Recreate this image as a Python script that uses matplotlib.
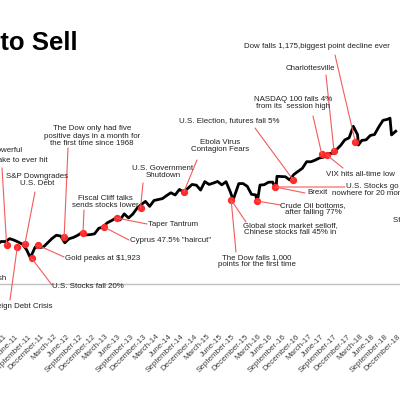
import matplotlib
matplotlib.use("Agg")
import matplotlib.pyplot as plt
from matplotlib.patches import ConnectionPatch
import numpy as np

plt.rcParams['font.family'] = ['Liberation Sans', 'DejaVu Sans']

# monthly S&P 500 closes, Jan 2011 .. Nov 2018
spx = [1286, 1327, 1325, 1363, 1345, 1320, 1292, 1218, 1131, 1253, 1246, 1258,
       1312, 1366, 1408, 1398, 1310, 1362, 1379, 1406, 1441, 1412, 1416, 1426,
       1498, 1515, 1569, 1598, 1631, 1606, 1686, 1633, 1682, 1757, 1806, 1848,
       1783, 1859, 1872, 1884, 1924, 1960, 1931, 2003, 1972, 2018, 2068, 2059,
       1995, 2105, 2068, 2086, 2107, 2063, 2104, 1972, 1920, 2079, 2080, 2044,
       1940, 1932, 2060, 2065, 2097, 2099, 2174, 2171, 2168, 2126, 2199, 2239,
       2279, 2364, 2363, 2384, 2412, 2423, 2470, 2472, 2519, 2575, 2648, 2674,
       2824, 2714, 2641, 2648, 2705, 2718, 2816, 2902, 2914, 2712, 2760]
spx_dates = [2011 + i / 12 for i in range(len(spx))]

# extra intramonth extremes
extra_dates = [2011.66, 2015.64, 2016.11, 2016.48, 2018.10, 2018.72]
extra_vals = [1110, 1867, 1829, 2000, 2581, 2930]

# event markers
ev_dates = [2011.19, 2011.40, 2011.55, 2011.68, 2011.80, 2012.32, 2012.69, 2013.10,
            2013.35, 2013.82, 2014.67, 2015.60, 2016.82, 2016.10, 2016.47, 2017.38,
            2017.48, 2017.62, 2018.04]
ev_vals = [1280, 1260, 1300, 1110, 1280, 1385, 1437, 1515,
           1632, 1762, 1970, 1866, 2126, 1853, 2035, 2464,
           2451, 2503, 2620]

month_names = ['March', 'June', 'September', 'December']
tick_years = list(range(11, 19))

t_all = np.array(spx_dates + extra_dates)
v_all = np.array(spx + extra_vals)
order = np.argsort(t_all)

fig = plt.figure(figsize=(4, 4), dpi=100)
ax = fig.add_axes([0, 0.175, 1, 0.825])
ax.set_xlim(2011.06, 2018.81)
ax.set_ylim(176, 4466)
for s in ax.spines.values():
    s.set_visible(False)
ax.set_yticks([])
ax.axhline(774, color='#bfbfbf', lw=1)

ax.plot(t_all[order], v_all[order], color='black', lw=2.0, zorder=3)
ax.scatter(ev_dates, ev_vals, s=18, color='#ff2a2a', zorder=4)

ticks, labels = [], []
for y in tick_years:
    for k, m in enumerate([3, 6, 9, 12]):
        ticks.append(2000 + y + (m - 1) / 12)
        labels.append(f"{month_names[k]}-{y}")
ax.set_xticks(ticks)
ax.set_xticklabels(labels, rotation=45, ha='right', va='center', rotation_mode='anchor',
                   fontsize=5.8, color='#404040')
ax.tick_params(axis='x', length=0, pad=4)

RED = '#f25b5b'
FS = 5.7

def txt(s, x, y, ha='center'):
    fig.text(x / 400, 1 - y / 400, s, ha=ha, va='center', fontsize=FS,
             color='#222222', linespacing=1.15)

def link(x, y, i):
    con = ConnectionPatch(xyA=(x / 400, 1 - y / 400), coordsA='figure fraction',
                          xyB=(ev_dates[i], ev_vals[i]), coordsB='data', axesB=ax,
                          color=RED, lw=0.8, zorder=2)
    fig.add_artist(con)

txt("Most powerful", 22, 151, 'right')
txt("earthquake to ever hit", 48, 160, 'right')
link(2, 168, 0)
txt("European Sovereign Debt Crisis", 53, 307, 'right')
link(10, 300, 1)
txt("S&P Downgrades\nU.S. Debt", 37, 180)
link(35, 192, 2)
txt("U.S. Stocks fall 20%", 52, 287, 'left')
link(52, 285, 3)
txt("Gold peaks at $1,923", 65, 258, 'left')
link(64, 257, 4)
txt("The Dow only had five\npositive days in a month for\nthe first time since 1968", 92, 136)
link(68, 148, 5)
txt("Fiscal Cliff talks\nsends stocks lower", 105, 202)
link(84, 210, 6)
txt("Cyprus 47.5% \"haircut\"", 130, 241, 'left')
link(129, 240, 7)
txt("Taper Tantrum", 148, 225, 'left')
link(147, 224, 8)
txt("U.S. Government\nShutdown", 163, 172)
link(143, 183, 9)
txt("Ebola Virus\nContagion Fears", 220, 146)
link(197, 160, 10)
txt("U.S. Election, futures fall 5%", 229, 121)
link(255, 128, 12)
txt("The Dow falls 1,000\npoints for the first time", 257, 261)
link(236, 252, 11)
txt("Global stock market selloff,\nChinese stocks fall 45% in", 290, 229)
link(246, 222, 11)
txt("Crude Oil bottoms,\nafter falling 77%", 313, 209)
link(281, 205, 13)
txt("Brexit", 307, 193, 'left')
link(305, 193, 14)
txt("U.S. Stocks go\nnowhere for 20 months", 372, 190)
link(345, 187, 14)
txt("VIX hits all-time low", 360, 174)
link(343, 168, 16)
txt("NASDAQ 100 falls 4%\nfrom its  session high", 293, 103)
link(313, 116, 15)
txt("Charlottesville", 310, 69)
link(326, 75, 17)
txt("Dow falls 1,175,biggest point decline ever", 317, 47)
link(335, 55, 18)
txt("Stocks tumble", 393, 221, 'left')
txt("Flash Crash", 6, 278, 'right')

fig.text(78 / 400, 1 - 43 / 400, "When to Sell", ha='right', va='center',
         fontsize=18.5, fontweight='bold', color='black')

fig.savefig("out.png", dpi=100)
